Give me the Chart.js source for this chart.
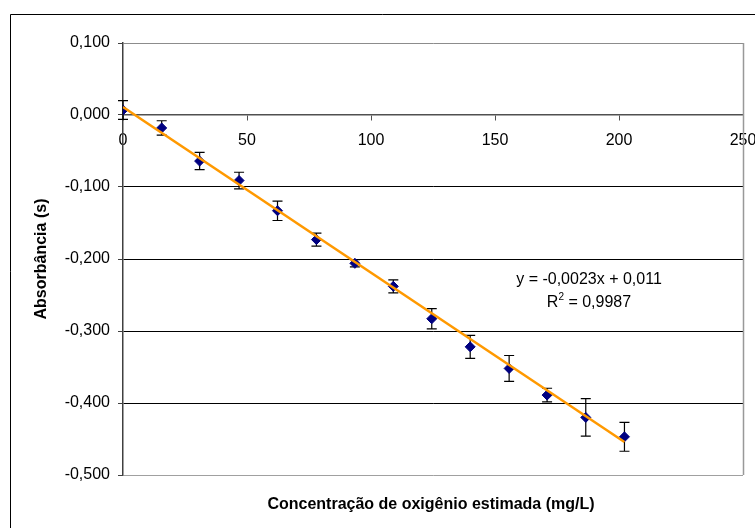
<!DOCTYPE html>
<html>
<head>
<meta charset="utf-8">
<script src="https://cdn.jsdelivr.net/npm/chart.js@4.4.0/dist/chart.umd.min.js"></script>
<style>
  html, body { margin: 0; padding: 0; background: #fff; }
  canvas { display: block; }
</style>
</head>
<body>
<canvas id="absChart" width="755" height="528"></canvas>
<script>
// values
var concentration = [0, 15.6, 30.9, 46.8, 62.3, 78.0, 93.5, 109.0, 124.5, 140.0, 155.7, 171.0, 186.6, 202.2];
var absorbance = [0.007, -0.018, -0.064, -0.091, -0.133, -0.173, -0.206, -0.238, -0.283, -0.322, -0.352, -0.389, -0.420, -0.447];
var errBar = [0.013, 0.010, 0.012, 0.0115, 0.0135, 0.009, 0.005, 0.009, 0.014, 0.016, 0.018, 0.0095, 0.026, 0.020];
var trendSlope = -0.0023;
var trendIntercept = 0.011;
var xTicks = [0, 50, 100, 150, 200, 250];
var yTicks = [0.1, 0, -0.1, -0.2, -0.3, -0.4, -0.5];

var FONT = "'Liberation Sans', Arial, sans-serif";

function fmtY(v) {
    if (Math.abs(v) < 1e-9) v = 0;
    return v.toFixed(3).replace(".", ",");
}

var points = concentration.map(function (x, i) { return { x: x, y: absorbance[i] }; });
var xMax = Math.max.apply(null, concentration);
var trend = [
    { x: 0, y: trendIntercept },
    { x: xMax, y: trendSlope * xMax + trendIntercept }
];

// white page + outer frame
var framePlugin = {
    id: "frame",
    beforeDraw: function (chart) {
        var c = chart.ctx;
        c.save();
        c.fillStyle = "#fff";
        c.fillRect(0, 0, chart.width, chart.height);
        c.strokeStyle = "#000";
        c.lineWidth = 1;
        c.beginPath();
        c.moveTo(10.5, chart.height);
        c.lineTo(10.5, 14.5);
        c.lineTo(chart.width, 14.5);
        c.stroke();
        c.restore();
    }
};

// right border of plot + error bars, behind the markers
var errorBarPlugin = {
    id: "errorBars",
    beforeDatasetsDraw: function (chart) {
        var c = chart.ctx, xs = chart.scales.x, ys = chart.scales.y, a = chart.chartArea;
        c.save();
        c.strokeStyle = "#999";
        c.lineWidth = 1.5;
        c.beginPath();
        c.moveTo(Math.round(a.right) + 0.5, a.top);
        c.lineTo(Math.round(a.right) + 0.5, a.bottom);
        c.stroke();

        c.strokeStyle = "#000";
        c.lineWidth = 1.2;
        for (var i = 0; i < concentration.length; i++) {
            var px = xs.getPixelForValue(concentration[i]);
            var top = ys.getPixelForValue(absorbance[i] + errBar[i]);
            var bot = ys.getPixelForValue(absorbance[i] - errBar[i]);
            c.beginPath();
            c.moveTo(px, top); c.lineTo(px, bot);
            c.moveTo(px - 5, top); c.lineTo(px + 5, top);
            c.moveTo(px - 5, bot); c.lineTo(px + 5, bot);
            c.stroke();
        }
        c.restore();
    }
};

// axis titles and trendline equation
var textPlugin = {
    id: "texts",
    afterDraw: function (chart) {
        var c = chart.ctx;
        c.save();
        c.fillStyle = "#000";
        c.textAlign = "center";
        c.textBaseline = "middle";
        c.font = "bold 16px " + FONT;
        c.fillText("Concentração de oxigênio estimada (mg/L)", 431, 505);
        c.save();
        c.translate(42, 259);
        c.rotate(-Math.PI / 2);
        c.fillText("Absorbância (s)", 0, 0);
        c.restore();

        c.font = "16px " + FONT;
        c.fillText("y = -0,0023x + 0,011", 589, 280);
        // R² with a raised 2
        var left = "R", rest = " = 0,9987";
        var wR = c.measureText(left).width, wRest = c.measureText(rest).width;
        c.font = "10px " + FONT;
        var w2 = c.measureText("2").width;
        var x0 = 589 - (wR + w2 + wRest) / 2;
        c.textAlign = "left";
        c.font = "16px " + FONT;
        c.fillText(left, x0, 303);
        c.fillText(rest, x0 + wR + w2, 303);
        c.font = "10px " + FONT;
        c.fillText("2", x0 + wR, 297);
        c.restore();
    }
};

var ctx = document.getElementById("absChart").getContext("2d");
var myChart = new Chart(ctx, {
    data: {
        datasets: [{
            type: "line",
            data: trend,
            borderColor: "#FF9900",
            borderWidth: 2.5,
            pointRadius: 0,
            fill: false,
            order: 0
        }, {
            type: "scatter",
            data: points,
            pointStyle: "rectRot",
            pointRadius: 5,
            backgroundColor: "#000080",
            borderColor: "#000080",
            borderWidth: 1,
            order: 1
        }]
    },
    plugins: [framePlugin, errorBarPlugin, textPlugin],
    options: {
        responsive: false,
        animation: false,
        devicePixelRatio: 1,
        layout: { autoPadding: false, padding: { left: 0, top: 43, right: 12, bottom: 53 } },
        plugins: {
            legend: { display: false },
            tooltip: { enabled: false }
        },
        scales: {
            x: {
                type: "linear",
                position: { y: 0 },
                min: 0,
                max: 250,
                afterBuildTicks: function (s) {
                    s.ticks = xTicks.map(function (v) { return { value: v }; });
                },
                afterFit: function (s) {
                    s.paddingLeft = 0; s.paddingRight = 0;
                },
                ticks: {
                    color: "#000",
                    font: { family: FONT, size: 16 },
                    padding: 11,
                    maxRotation: 0,
                    callback: function (v) { return String(v); }
                },
                grid: {
                    drawOnChartArea: false,
                    drawTicks: true,
                    tickLength: 5,
                    color: "#505050"
                },
                border: { display: true, color: "#505050", width: 1.5 }
            },
            y: {
                type: "linear",
                position: "left",
                min: -0.5,
                max: 0.1,
                afterBuildTicks: function (s) {
                    s.ticks = yTicks.map(function (v) { return { value: v }; });
                },
                afterFit: function (s) { s.width = 123; },
                ticks: {
                    color: "#000",
                    font: { family: FONT, size: 16 },
                    padding: 8,
                    callback: function (v) { return fmtY(v); }
                },
                grid: {
                    tickLength: 5,
                    tickColor: "#404040",
                    color: function (c) {
                        var v = c.tick ? c.tick.value : 0;
                        if (Math.abs(v - 0.1) < 1e-9) return "#8c8c8c";
                        if (Math.abs(v + 0.5) < 1e-9) return "#a0a0a0";
                        if (Math.abs(v) < 1e-9) return "#505050";
                        return "#000";
                    }
                },
                border: { display: true, color: "#404040", width: 1.5 }
            }
        }
    }
});
</script>
</body>
</html>
